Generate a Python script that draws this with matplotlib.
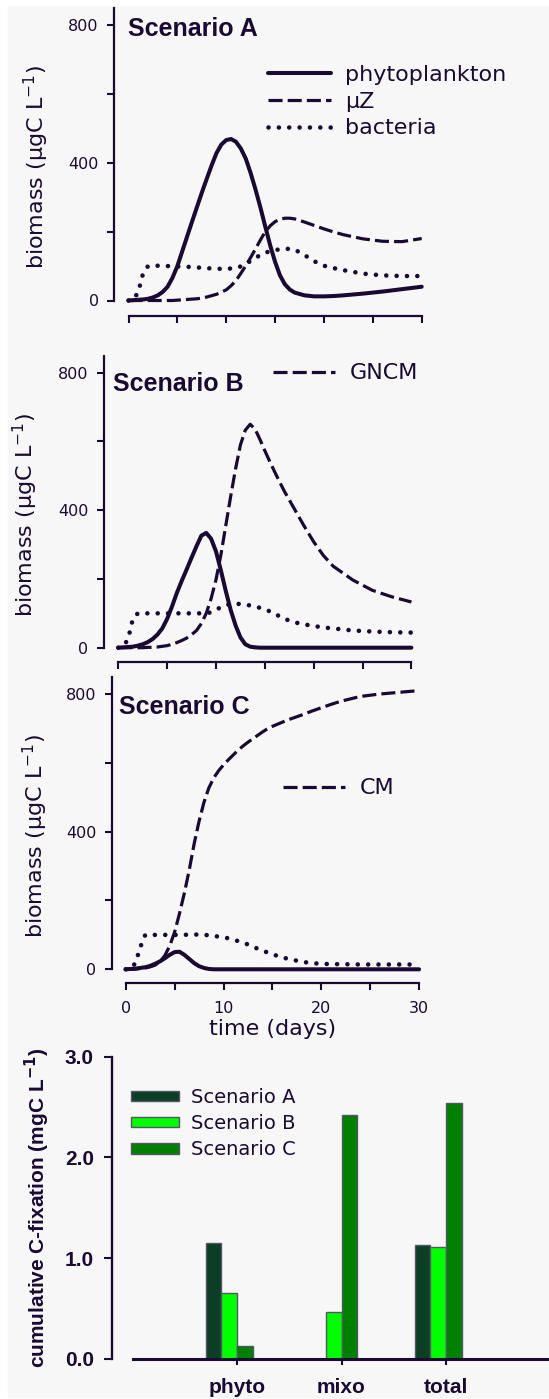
import matplotlib
matplotlib.use('Agg')
import matplotlib.pyplot as plt
from matplotlib.patches import Rectangle

W, H = 549, 1399
ink = '#1a0933'

# time grid (days) shared by all simulated series
t = [0, 0.5, 1, 1.5, 2, 2.5, 3, 3.5, 4, 4.5,
     5, 5.5, 6, 6.5, 7, 7.5, 8, 8.5, 9, 9.5,
     10, 10.5, 11, 11.5, 12, 12.5, 13, 13.5, 14, 14.5,
     15, 15.5, 16, 16.5, 17,
     18, 19, 20, 21, 22, 24, 26, 28, 30]

# Scenario A
phyto_a = [0, 1, 2, 3, 5, 9, 15, 25, 40, 66,
           100, 143, 186, 229, 271, 313, 353, 392, 428, 453,
           466, 469, 461, 441, 412, 370, 322, 270, 214, 160,
           112, 73, 47, 32, 23,
           15, 12, 12, 13, 15, 20, 26, 33, 40]
muz_a = [0, 0, 0, 0, 0, 0, 0, 0, 0, 0,
         1, 2, 3, 4, 5, 7, 10, 14, 18, 24,
         31, 43, 58, 79, 101, 125, 150, 176, 200, 217,
         229, 236, 239, 239, 237,
         228, 218, 208, 199, 191, 179, 172, 171, 180]
bact_a = [0, 2, 25, 80, 100, 101, 101, 100, 100, 100,
          99, 98, 98, 97, 96, 95, 94, 93, 92, 92,
          92, 93, 95, 99, 106, 115, 124, 132, 139, 143,
          146, 149, 150, 150, 148,
          132, 114, 101, 94, 88, 78, 73, 71, 71]

# Scenario B
phyto_b = [0, 1, 2, 3, 6, 10, 16, 25, 38, 56,
           84, 120, 160, 195, 228, 262, 295, 326, 334, 317,
           280, 225, 165, 110, 65, 30, 10, 3, 1, 0,
           0, 0, 0, 0, 0,
           0, 0, 0, 0, 0, 0, 0, 0, 0]
gncm_b = [0, 0, 0, 0, 0, 0, 1, 1, 2, 4,
          6, 10, 15, 21, 28, 38, 50, 70, 100, 143,
          198, 270, 355, 440, 520, 590, 633, 650, 636, 606,
          573, 542, 512, 483, 455,
          405, 355, 308, 268, 237, 197, 167, 148, 133]
bact_b = [0, 3, 25, 85, 100, 100, 100, 100, 100, 100,
          100, 100, 100, 100, 100, 100, 100, 100, 100, 103,
          110, 118, 124, 127, 128, 127, 125, 123, 120, 116,
          111, 106, 100, 91, 84,
          74, 68, 63, 59, 56, 50, 47, 45, 44]

# Scenario C
phyto_c = [0, 1, 2, 4, 6, 10, 16, 23, 32, 42,
           50, 51, 42, 30, 18, 9, 4, 1, 0, 0,
           0, 0, 0, 0, 0, 0, 0, 0, 0, 0,
           0, 0, 0, 0, 0,
           0, 0, 0, 0, 0, 0, 0, 0, 0]
cm_c = [0, 0, 1, 2, 4, 7, 12, 22, 40, 68,
        108, 162, 222, 289, 365, 430, 485, 527, 556, 577,
        594, 609, 623, 637, 649, 660, 670, 680, 690, 699,
        706, 712, 718, 724, 729,
        739, 750, 760, 770, 779, 793, 800, 805, 810]
bact_c = [0, 2, 18, 65, 100, 100, 100, 100, 100, 100,
          100, 100, 100, 101, 101, 101, 100, 99, 97, 95,
          93, 90, 86, 82, 78, 72, 65, 60, 54, 49,
          44, 39, 35, 31, 28,
          22, 18, 16, 15, 15, 14, 14, 14, 14]

# cumulative C-fixation (mgC L-1)
groups = ['phyto', 'mixo', 'total']
scen_a = [1.146, 0.0, 1.129]
scen_b = [0.650, 0.467, 1.113]
scen_c = [0.126, 2.418, 2.540]

plt.rcParams['font.family'] = 'DejaVu Sans'
plt.rcParams['mathtext.fontset'] = 'dejavusans'
plt.rcParams['text.color'] = ink

fig = plt.figure(figsize=(W / 100, H / 100), dpi=100)
fig.patches.append(Rectangle((8 / W, 2 / H), (W - 8) / W, (H - 8) / H,
                             transform=fig.transFigure, color='#f7f7f7', zorder=-10))

solid = dict(color=ink, lw=2.9, solid_capstyle='round', solid_joinstyle='round', clip_on=False)
dashed = dict(color=ink, lw=2.3, linestyle=(0, (4.4, 1.6)), clip_on=False)
dotted = dict(color=ink, lw=3.3, linestyle=(0, (0.01, 2.25)), dash_capstyle='round', clip_on=False)


def pt(px_):
    return px_ * 72 / 100


def panel(left, right, y0, scale, off_l, off_b, lines, xlabels):
    height = 850 * scale
    ax = fig.add_axes([left / W, 1 - y0 / H, (right - left) / W, height / H])
    ax.set_facecolor('none')
    handles = []
    for y, st, lab in lines:
        h, = ax.plot(t, y, label=lab, **st)
        handles.append(h)
    ax.set_xlim(0, 30)
    ax.set_ylim(0, 850)
    for s in ['top', 'right']:
        ax.spines[s].set_visible(False)
    ax.spines['left'].set_position(('outward', pt(off_l)))
    ax.spines['bottom'].set_position(('outward', pt(off_b)))
    for s in ['left', 'bottom']:
        ax.spines[s].set_linewidth(1.6)
        ax.spines[s].set_color(ink)
    ax.set_yticks([0, 400, 800])
    ax.set_yticks([200, 600], minor=True)
    if xlabels:
        ax.set_xticks([0, 10, 20, 30])
        ax.set_xticks([5, 15, 25], minor=True)
    else:
        ax.set_xticks(range(0, 31, 5))
        ax.set_xticklabels([])
    ax.tick_params(which='both', colors=ink, width=1.5, length=5, labelsize=11.5)
    ax.tick_params(axis='y', pad=6)
    ax.tick_params(axis='x', pad=8)
    return ax, handles


def add_legend(ax, handles, x, y, loc):
    ax.legend(handles=handles, loc=loc, bbox_to_anchor=(x / W, 1 - y / H),
              bbox_transform=fig.transFigure, frameon=False, fontsize=16,
              handlelength=2.8, handletextpad=0.64, labelspacing=0.3,
              borderpad=0, borderaxespad=0, labelcolor=ink)


# panel A
axa, ha = panel(128.5, 421.7, 300.5, 0.3443, 14.5, 15,
                [(phyto_a, solid, 'phytoplankton'), (muz_a, dashed, 'μZ'),
                 (bact_a, dotted, 'bacteria')], False)
add_legend(axa, ha, 268.3, 65, 'upper left')

# panel B
axb, hb = panel(118.3, 411.4, 647.7, 0.3437, 14.7, 14.6,
                [(phyto_b, solid, None), (gncm_b, dashed, 'GNCM'),
                 (bact_b, dotted, None)], False)
add_legend(axb, [hb[1]], 273, 373.3, 'center left')

# panel C
axc, hc = panel(125.7, 419.1, 969.3, 0.3441, 14, 14,
                [(phyto_c, solid, None), (cm_c, dashed, 'CM'),
                 (bact_c, dotted, None)], True)
add_legend(axc, [hc[1]], 283, 788.3, 'center left')
axc.set_xlabel('time (days)', fontsize=16, labelpad=2, color=ink)

ylab = 'biomass (μgC L$^{-1}$)'
for xc, yc in [(36.5, 167.5), (25.5, 515), (35, 836.5)]:
    fig.text(xc / W, 1 - yc / H, ylab, rotation=90, ha='center', va='center',
             fontsize=16, color=ink)

bold = dict(family='Liberation Sans', fontweight='bold', fontsize=18, color=ink)
for xl, yb, txt in [(127.8, 36, 'Scenario A'), (112.7, 390.7, 'Scenario B'),
                    (119, 714, 'Scenario C')]:
    fig.text(xl / W, 1 - yb / H, txt, ha='left', va='baseline', **bold)

# bar chart
bl, bw = 132.5, W - 132.5
axd = fig.add_axes([bl / W, 40.3 / H, bw / W, 302 / H])
axd.set_facecolor('none')
xpos = [1, 2, 3]
w = 0.15
bar_edge = dict(edgecolor='#55556a', linewidth=1, align='edge')
axd.bar([x - 2 * w for x in xpos], scen_a, w, color='#0c3e24', label='Scenario A', **bar_edge)
axd.bar([x - w for x in xpos], scen_b, w, color='#00ff00', label='Scenario B', **bar_edge)
axd.bar(xpos, scen_c, w, color='#008000', label='Scenario C', **bar_edge)
axd.set_xlim(0, bw / 104.5)
axd.set_ylim(0, 3.0)
for s in ['top', 'right']:
    axd.spines[s].set_visible(False)
axd.spines['left'].set_position(('outward', pt(bl - 111.7)))
axd.spines['left'].set_linewidth(1.7)
axd.spines['bottom'].set_linewidth(2.2)
for s in ['left', 'bottom']:
    axd.spines[s].set_color(ink)
axd.set_xticks(xpos)
axd.set_xticklabels(groups)
axd.set_yticks([0, 1, 2, 3])
axd.set_yticklabels(['0.0', '1.0', '2.0', '3.0'])
axd.tick_params(colors=ink, width=1.5)
axd.tick_params(axis='y', length=5.8, pad=7)
axd.tick_params(axis='x', length=4.5, pad=9.5)
for lab in axd.get_xticklabels() + axd.get_yticklabels():
    lab.set_family('Liberation Sans')
    lab.set_fontweight('bold')
    lab.set_fontsize(15)
fig.text(37.5 / W, 1 - 1207.5 / H, 'cumulative C-fixation (mgC L$^{\\mathbf{-1}}$)',
         rotation=90, ha='center', va='center', family='Liberation Sans',
         fontweight='bold', fontsize=15, color=ink)
axd.legend(loc='upper left', bbox_to_anchor=(131.3 / W, 1 - 1088 / H),
           bbox_transform=fig.transFigure, frameon=False, fontsize=14,
           handlelength=2.43, handleheight=0.45, handletextpad=0.63,
           labelspacing=0.37, borderpad=0, borderaxespad=0, labelcolor=ink)

fig.savefig('out.png', dpi=100)
